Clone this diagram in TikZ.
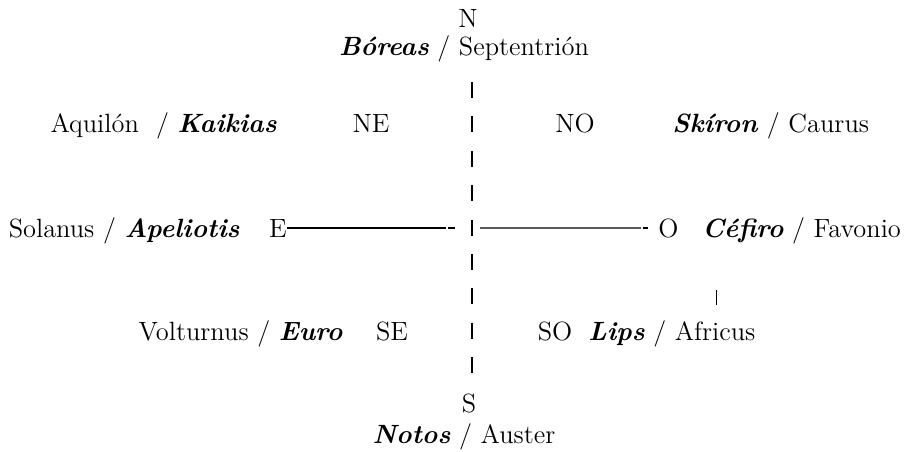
\documentclass[tikz,border=0pt]{standalone}
\usepackage{fontspec}
\newcommand{\vname}[1]{\textbf{\textit{#1}}}

\begin{document}
\begin{tikzpicture}[x=0.5pt, y=-0.5pt,
    wind/.style={inner sep=0pt, font=\fontsize{13.2}{16}\selectfont},
    axisline/.style={line width=0.7pt},
    axisdash/.style={line width=0.7pt, dash pattern=on 8pt off 9.2pt}]
  \useasboundingbox (0,0) rectangle (907,451);
  % north and south
  \node[wind, anchor=base] (N) at (468,27) {N};
  \node[wind, anchor=base] (boreas) at (464,55) {\vname{Bóreas} / Septentrión};
  \node[wind, anchor=base] (S) at (469,412) {S};
  \node[wind, anchor=base] (notos) at (464,443) {\vname{Notos} / Auster};
  % upper row
  \node[wind, anchor=base east] (aquilon) at (277,132) {Aquilón\ \ / \vname{Kaikias}};
  \node[wind, anchor=base] (NE) at (371,132) {NE};
  \node[wind, anchor=base] (NO) at (575,132) {NO};
  \node[wind, anchor=base west] (skiron) at (672,132) {\vname{Skíron} / Caurus};
  % middle row
  \node[wind, anchor=base east] (solanus) at (240,237) {Solanus / \vname{Apeliotis}};
  \node[wind, anchor=base east] (E) at (287,237) {E};
  \node[wind, anchor=base west] (O) at (658,237) {O};
  \node[wind, anchor=base west] (cefiro) at (702,237) {\vname{Céfiro} / Favonio};
  % lower row
  \node[wind, anchor=base east] (volturnus) at (343,340) {Volturnus / \vname{Euro}};
  \node[wind, anchor=base] (SE) at (392,340) {SE};
  \node[wind, anchor=base] (SO) at (555,340) {SO};
  \node[wind, anchor=base west] (lips) at (588,340) {\vname{Lips} / Africus};
  % axes
  \coordinate (top) at (472,82);
  \coordinate (bot) at (472,374);
  \draw[axisdash] (top) -- (bot);
  \coordinate (wgap) at (446,0);
  \coordinate (egap) at (641,0);
  \draw[axisline] (E.east) -- (E.east -| wgap);
  \draw[axisline] ([xshift=1.2pt]E.east -| wgap) -- ([xshift=4.5pt]E.east -| wgap);
  \draw[axisline] ([xshift=17pt]E.east -| wgap) -- (O.west -| egap);
  \draw[axisline] ([xshift=1.2pt]O.west -| egap) -- ([xshift=3.5pt]O.west -| egap);
  \coordinate (tick) at (716.5,290);
  \draw[axisline] (tick) -- ++(0,15);
\end{tikzpicture}
\end{document}
